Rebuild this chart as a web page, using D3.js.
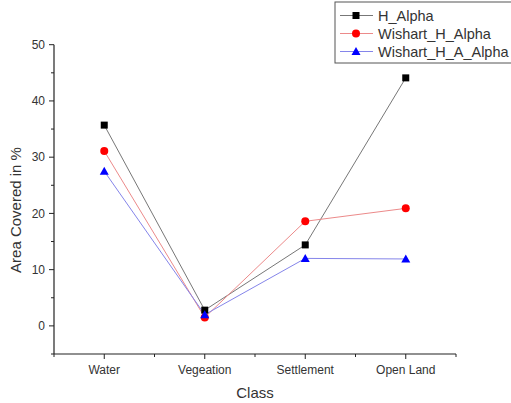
<!DOCTYPE html>
<html>
<head>
<meta charset="utf-8">
<script src="https://cdn.jsdelivr.net/npm/d3@7"></script>
<style>
  body { margin: 0; background: #fff; }
  text { font-family: Arial, "Liberation Sans", sans-serif; fill: #333; }
</style>
</head>
<body>
<div id="chart"></div>
<script>
const width = 511;
const height = 403;

// data
const categories = ['Water', 'Vegeation', 'Settlement', 'Open Land'];
const hAlpha = [35.7, 2.8, 14.4, 44.1];
const wishartH = [31.1, 1.5, 18.6, 20.9];
const wishartHA = [27.5, 2.0, 12.0, 11.9];
const yTicks = [0, 10, 20, 30, 40, 50];

const series = [
  {name: 'H_Alpha', values: hAlpha, color: '#000', line: '#777', shape: 'square'},
  {name: 'Wishart_H_Alpha', values: wishartH, color: '#f00', line: '#ec8a8a', shape: 'circle'},
  {name: 'Wishart_H_A_Alpha', values: wishartHA, color: '#00f', line: '#8585ea', shape: 'triangle'}
];

const plotLeft = 54, plotRight = 456, plotTop = 44.7, plotBottom = 354;

let svg = d3.select('#chart').append('svg')
    .attr('width', width)
    .attr('height', height);

// category index 0..3 placed at half steps, axis spans -0.5..3.5
let x = d3.scaleLinear().domain([-0.5, 3.5]).range([plotLeft, plotRight]);
let y = d3.scaleLinear().domain([-5, 50]).range([plotBottom, plotTop]);

// y axis
let yAxis = svg.append('g').attr('transform', 'translate(' + plotLeft + ',0)');
yAxis.append('line')
    .attr('y1', y(50)).attr('y2', y(-5))
    .attr('stroke', '#222').attr('stroke-width', 1.2);
d3.range(-5, 51, 5).forEach(v => {
  let major = v % 10 === 0;
  yAxis.append('line')
      .attr('x1', major ? -5 : -3).attr('x2', 0)
      .attr('y1', y(v)).attr('y2', y(v))
      .attr('stroke', '#222');
});
yAxis.selectAll('.ylab')
    .data(yTicks)
    .enter().append('text')
    .attr('x', -9)
    .attr('y', d => y(d))
    .attr('dy', '0.35em')
    .attr('text-anchor', 'end')
    .style('font-size', '12px')
    .text(d => d);

// x axis
let xAxis = svg.append('g').attr('transform', 'translate(0,' + plotBottom + ')');
xAxis.append('line')
    .attr('x1', plotLeft).attr('x2', plotRight)
    .attr('stroke', '#222').attr('stroke-width', 1.2);
d3.range(-0.5, 3.6, 0.5).forEach(v => {
  let major = Number.isInteger(v);
  xAxis.append('line')
      .attr('x1', x(v)).attr('x2', x(v))
      .attr('y1', 0).attr('y2', major ? 5 : 3)
      .attr('stroke', '#222');
});
xAxis.selectAll('.xlab')
    .data(categories)
    .enter().append('text')
    .attr('x', (d, i) => x(i))
    .attr('y', 20)
    .attr('text-anchor', 'middle')
    .style('font-size', '12px')
    .text(d => d);

// axis titles
svg.append('text')
    .attr('x', (plotLeft + plotRight) / 2)
    .attr('y', 398)
    .attr('text-anchor', 'middle')
    .style('font-size', '15px')
    .text('Class');

svg.append('text')
    .attr('transform', 'translate(21,' + 210 + ') rotate(-90)')
    .attr('text-anchor', 'middle')
    .style('font-size', '15px')
    .text('Area Covered in %');

function marker(g, shape, color, cx, cy) {
  if (shape === 'square') {
    g.append('rect')
        .attr('x', cx - 3.5).attr('y', cy - 3.5)
        .attr('width', 7).attr('height', 7)
        .attr('fill', color);
  } else if (shape === 'circle') {
    g.append('circle')
        .attr('cx', cx).attr('cy', cy).attr('r', 4)
        .attr('fill', color);
  } else {
    g.append('path')
        .attr('d', 'M' + cx + ',' + (cy - 4.5) + 'L' + (cx + 4.5) + ',' + (cy + 3.5) + 'L' + (cx - 4.5) + ',' + (cy + 3.5) + 'Z')
        .attr('fill', color);
  }
}

let line = d3.line()
    .x((d, i) => x(i))
    .y(d => y(d));

series.forEach(s => {
  svg.append('path')
      .attr('d', line(s.values))
      .attr('fill', 'none')
      .attr('stroke', s.line)
      .attr('stroke-width', 1);
});
series.forEach(s => {
  let g = svg.append('g');
  s.values.forEach((v, i) => marker(g, s.shape, s.color, x(i), y(v)));
});

// legend
let legend = svg.append('g');
legend.append('rect')
    .attr('x', 335).attr('y', 2)
    .attr('width', 190).attr('height', 61)
    .attr('fill', '#fff')
    .attr('stroke', '#555')
    .attr('stroke-width', 1);
series.forEach((s, i) => {
  let ly = 15.5 + i * 18;
  legend.append('line')
      .attr('x1', 340).attr('x2', 373)
      .attr('y1', ly).attr('y2', ly)
      .attr('stroke', s.line);
  marker(legend, s.shape, s.color, 356, ly);
  legend.append('text')
      .attr('x', 378)
      .attr('y', ly)
      .attr('dy', '0.35em')
      .style('font-size', '14.5px')
      .text(s.name);
});
</script>
</body>
</html>
